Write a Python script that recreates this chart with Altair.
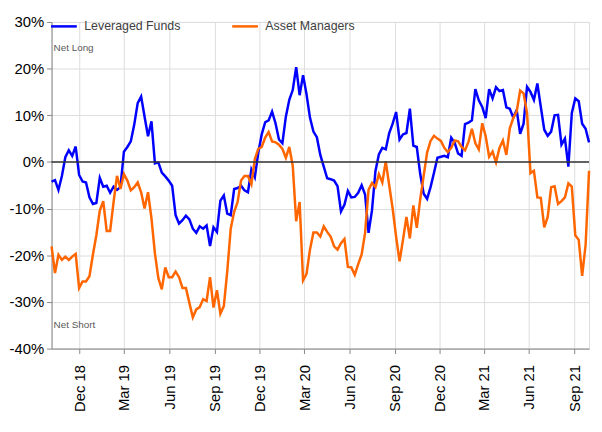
import altair as alt
import pandas as pd

# ---- data ----
start_date = "2018-10-05"
n_weeks = 157

leveraged_funds = [
    -4.2, -3.9, -6.0, -3.0, 1.0, 2.5, 1.3, 3.3, -2.8, -4.2,
    -4.4, -7.6, -9.0, -8.8, -3.4, -5.3, -5.1, -6.6, -5.3, -6.0,
    -5.4, 2.2, 3.2, 4.4, 8.0, 12.6, 14.0, 9.7, 5.5, 8.7,
    -0.3, -0.1, -2.3, -3.1, -4.0, -5.1, -11.4, -13.2, -12.5, -11.5,
    -12.3, -14.3, -15.2, -13.8, -14.3, -13.6, -18.0, -14.0, -15.0, -8.3,
    -7.2, -11.1, -11.4, -5.8, -5.6, -5.1, -6.1, -6.5, -1.6, -3.3,
    2.0, 5.9, 8.5, 8.9, 10.8, 8.3, 4.8, 4.0, 9.7, 13.3,
    15.4, 20.3, 14.3, 18.6, 14.5, 9.5, 6.5, 5.3, 1.5, -1.0,
    -3.5, -3.7, -4.0, -5.2, -10.6, -9.2, -6.2, -7.6, -7.5, -6.6,
    -5.0, -7.0, -15.2, -10.4, -2.0, 1.6, 3.0, 2.7, 6.2, 8.2,
    10.7, 4.8, 5.9, 6.2, 11.4, 3.5, 3.2, -2.6, -6.8, -7.9,
    -5.4, -2.3, 0.9, 1.1, 1.3, 1.0, 5.2, 4.1, 1.8, 1.3,
    8.1, 8.4, 8.9, 15.6, 13.2, 11.8, 9.4, 15.6, 13.6, 16.0,
    15.2, 15.4, 11.7, 11.4, 9.5, 11.1, 6.0, 8.2, 16.1, 15.0,
    13.3, 16.8, 11.8, 6.9, 5.6, 6.5, 10.0, 10.1, 3.7, 5.0,
    -1.0, 10.5, 13.6, 13.0, 8.2, 7.1, 4.2,
]

asset_managers = [
    -18.1, -23.8, -19.9, -21.0, -20.3, -21.0, -20.3, -19.7, -27.0, -25.6,
    -25.6, -24.5, -19.9, -15.7, -10.4, -8.4, -14.8, -14.8, -8.6, -3.0,
    -5.8, -2.6, -4.0, -6.1, -5.4, -4.4, -6.5, -10.0, -6.5, -12.1,
    -19.6, -24.9, -27.3, -22.6, -24.7, -24.7, -23.5, -24.7, -27.0, -27.0,
    -30.2, -33.3, -31.6, -31.1, -29.4, -29.8, -24.7, -31.2, -27.5, -32.5,
    -30.9, -23.4, -14.3, -10.7, -8.6, -4.0, -3.0, -3.0, -4.8, 0.6,
    2.8, 3.2, 5.2, 6.4, 4.4, 4.2, 3.7, 2.8, 0.9, 3.2,
    -0.8, -12.7, -8.6, -25.4, -24.0, -18.8, -15.1, -15.1, -16.0, -13.8,
    -15.0, -16.0, -18.1, -18.8, -17.4, -16.5, -22.5, -22.6, -24.2, -21.9,
    -19.8, -15.2, -6.0, -4.5, -5.4, -2.6, -4.4, 0.1, -5.0, -10.0,
    -16.0, -21.3, -16.7, -11.8, -16.4, -9.3, -14.1, -8.0, -3.0, 2.0,
    4.5, 5.6, 5.0, 4.5, 3.0, 2.1, 3.0, 4.6, 4.4, 3.2,
    2.5, 4.3, 7.1, 4.0, 2.7, 8.3, 5.5, 1.1, 2.2, -0.1,
    3.0, 4.6, 1.5, 7.2, 9.4, 10.8, 15.3, 14.7, 10.5, -2.4,
    -1.9, -7.6, -7.7, -14.0, -11.8, -5.4, -5.2, -9.0, -8.4, -7.6,
    -4.6, -5.3, -15.7, -16.7, -24.4, -17.8, -1.9,
]

series_names = ["Leveraged Funds", "Asset Managers"]
series_colors = ["#0000ff", "#ff6600"]

tick_months = [(2018, 12), (2019, 3), (2019, 6), (2019, 9), (2019, 12),
               (2020, 3), (2020, 6), (2020, 9), (2020, 12),
               (2021, 3), (2021, 6), (2021, 9)]
y_ticks = [-40, -30, -20, -10, 0, 10, 20, 30]

annotation_labels = ["Net Long", "Net Short"]
annotation_levels = [24.5, -35]

# ---- tables ----
dates = list(pd.date_range(start_date, periods=n_weeks, freq="7D"))
df = pd.DataFrame({
    "date": dates + dates,
    "value": leveraged_funds + asset_managers,
    "series": [series_names[0]] * n_weeks + [series_names[1]] * n_weeks,
})
zero_df = pd.DataFrame({"v": [0]})
ann_df = pd.DataFrame({"label": annotation_labels, "v": annotation_levels})

FONT = "Liberation Sans"
GREY = "#595959"

x_enc = alt.X(
    "date:T",
    title=None,
    scale=alt.Scale(nice=False, padding=0),
    axis=alt.Axis(
        values=[alt.DateTime(year=y, month=m, date=1) for y, m in tick_months],
        format="%b %y",
        labelAngle=-90,
        labelPadding=11,
        labelFontSize=15,
    ),
)
y_scale = alt.Scale(domain=[-40, 30], nice=False, zero=False)
y_axis = alt.Axis(
    values=y_ticks,
    labelExpr="datum.value + '%'",
    labelPadding=3,
    labelFontSize=15,
)

lines = alt.Chart(df).mark_line(strokeWidth=2.5).encode(
    x=x_enc,
    y=alt.Y("value:Q", title=None, scale=y_scale, axis=y_axis),
    color=alt.Color(
        "series:N",
        scale=alt.Scale(domain=series_names, range=series_colors),
        legend=alt.Legend(
            title=None,
            orient="none",
            legendX=-2,
            legendY=-10,
            direction="horizontal",
            symbolType="stroke",
            symbolSize=676,
            symbolStrokeWidth=2.5,
            labelFontSize=12.5,
            labelColor="#404040",
            labelFont=FONT,
            labelOffset=6,
            columnPadding=46,
        ),
    ),
    detail="series:N",
)

zero_rule = alt.Chart(zero_df).mark_rule(color="#333333", strokeWidth=1.5).encode(
    y=alt.Y("v:Q", scale=y_scale)
)

notes = alt.Chart(ann_df).mark_text(
    align="left", baseline="middle", fontSize=10, color=GREY, font=FONT
).encode(
    x=alt.value(2),
    y=alt.Y("v:Q", scale=y_scale),
    text="label:N",
)

chart = alt.layer(lines, zero_rule, notes).properties(
    width=543,
    height=330,
    padding={"left": 0, "top": 2, "right": 0, "bottom": 0},
).configure_view(stroke=None).configure_axis(
    domain=False,
    ticks=False,
    grid=False,
    labelColor=GREY,
    labelFont=FONT,
).configure(font=FONT)

chart.save("out.html", embed_options={"renderer": "svg", "actions": False})
